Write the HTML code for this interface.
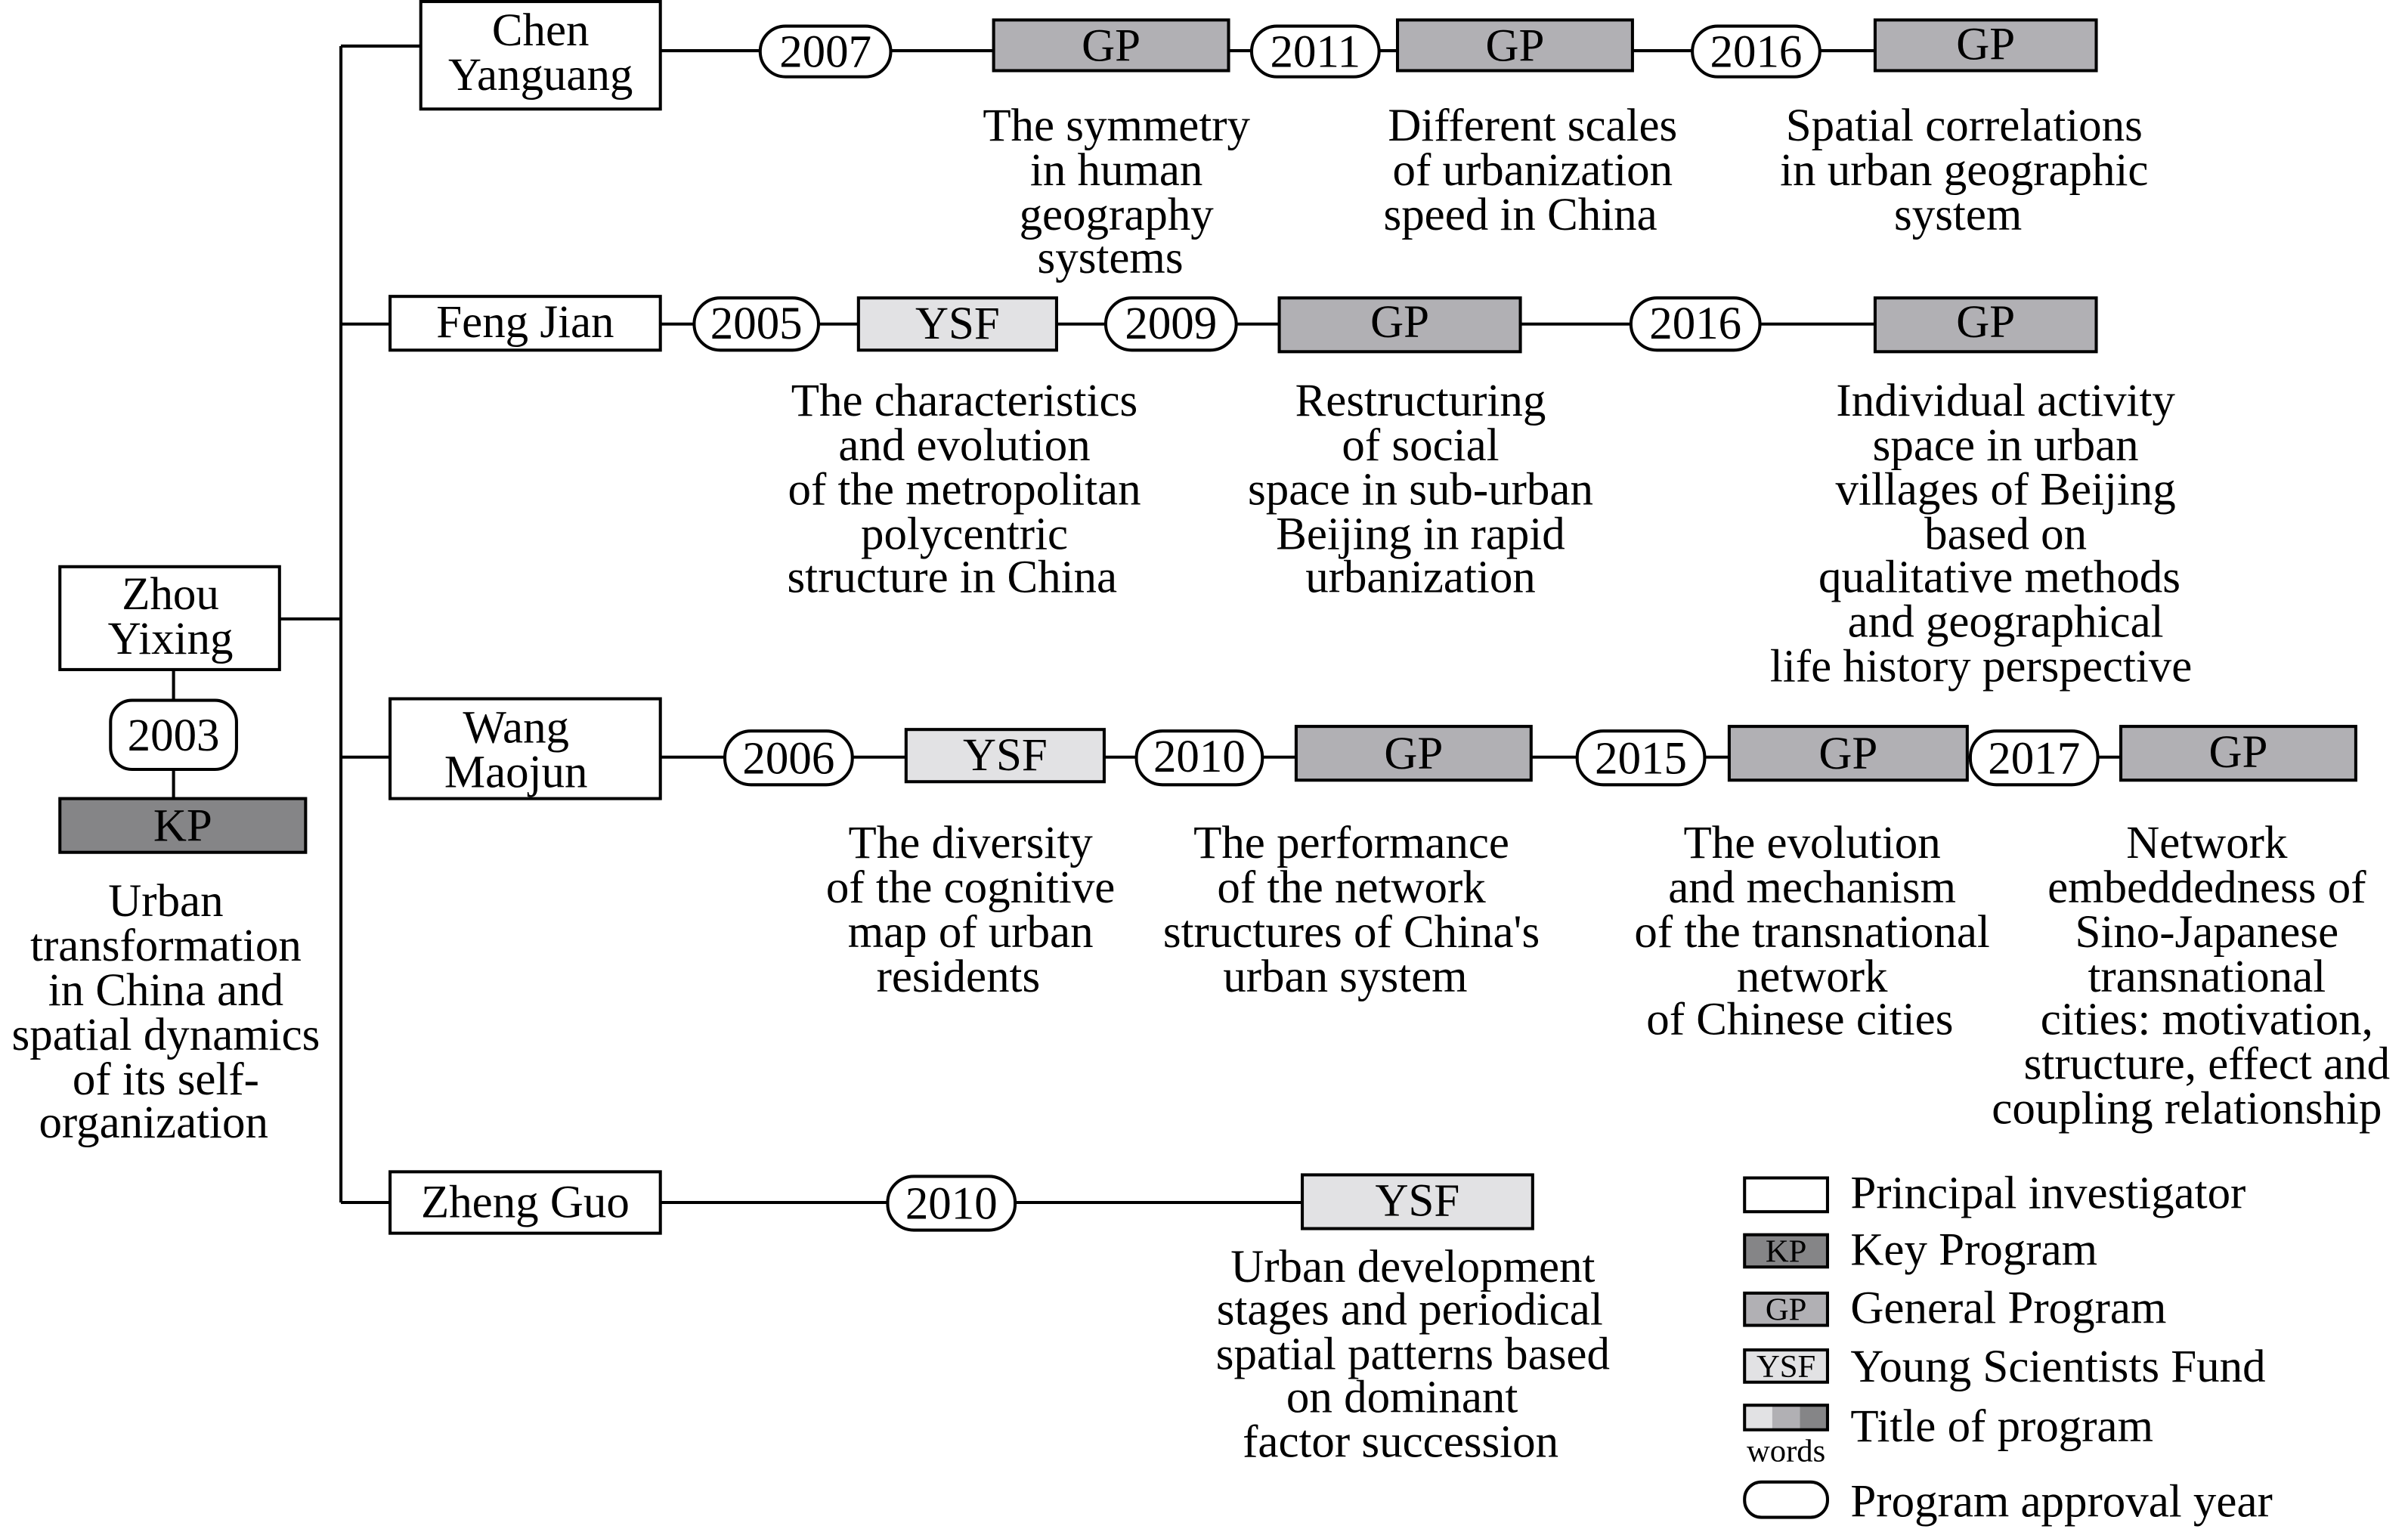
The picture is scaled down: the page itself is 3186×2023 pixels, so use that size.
<!DOCTYPE html>
<html><head><meta charset="utf-8"><style>
html,body{margin:0;padding:0;background:#fff;}
svg{display:block;}
text{font-family:"Liberation Serif",serif;fill:#000;}
</style></head><body>
<svg width="3186" height="2023" viewBox="0 0 1568 995.6" preserveAspectRatio="none" xmlns="http://www.w3.org/2000/svg">
<g stroke="#000" stroke-width="2" fill="none">
<line x1="222" y1="30" x2="222" y2="783"/>
<line x1="222" y1="30" x2="274" y2="30"/>
<line x1="222" y1="211" x2="254" y2="211"/>
<line x1="222" y1="493" x2="254" y2="493"/>
<line x1="222" y1="783" x2="254" y2="783"/>
<line x1="182" y1="403" x2="222" y2="403"/>
<line x1="113" y1="436" x2="113" y2="520"/>
<line x1="430" y1="33" x2="1221" y2="33"/>
<line x1="430" y1="211" x2="1221" y2="211"/>
<line x1="430" y1="493" x2="1381" y2="493"/>
<line x1="430" y1="783" x2="848" y2="783"/>
</g>
<g stroke="#000" stroke-width="2">
<rect x="274" y="1" width="156" height="70" fill="#fff"/>
<rect x="254" y="193" width="176" height="35" fill="#fff"/>
<rect x="254" y="455" width="176" height="65" fill="#fff"/>
<rect x="254" y="763" width="176" height="40" fill="#fff"/>
<rect x="39" y="369" width="143" height="67" fill="#fff"/>
<rect x="39" y="520" width="160" height="35" fill="#858587"/>
<rect x="72" y="456" width="82" height="45" rx="14" fill="#fff"/>
<rect x="495" y="17" width="85" height="33" rx="16.5" fill="#fff"/>
<rect x="815" y="17" width="83" height="33" rx="16.5" fill="#fff"/>
<rect x="1102" y="17" width="83" height="33" rx="16.5" fill="#fff"/>
<rect x="452" y="194" width="81" height="34" rx="17" fill="#fff"/>
<rect x="720" y="194" width="85" height="34" rx="17" fill="#fff"/>
<rect x="1062" y="194" width="84" height="34" rx="17" fill="#fff"/>
<rect x="472" y="476" width="83" height="35" rx="17" fill="#fff"/>
<rect x="740" y="476" width="82" height="35" rx="17" fill="#fff"/>
<rect x="1027" y="476" width="83" height="35" rx="17" fill="#fff"/>
<rect x="1283" y="476" width="83" height="35" rx="17" fill="#fff"/>
<rect x="578" y="766" width="83" height="35" rx="17" fill="#fff"/>
<rect x="647" y="13" width="153" height="33" fill="#b1b0b4"/>
<rect x="910" y="13" width="153" height="33" fill="#b1b0b4"/>
<rect x="1221" y="13" width="144" height="33" fill="#b1b0b4"/>
<rect x="833" y="194" width="157" height="35" fill="#b1b0b4"/>
<rect x="1221" y="194" width="144" height="35" fill="#b1b0b4"/>
<rect x="844" y="473" width="153" height="35" fill="#b1b0b4"/>
<rect x="1126" y="473" width="155" height="35" fill="#b1b0b4"/>
<rect x="1381" y="473" width="153" height="35" fill="#b1b0b4"/>
<rect x="559" y="194" width="129" height="34" fill="#e2e2e4"/>
<rect x="590" y="475" width="129" height="34" fill="#e2e2e4"/>
<rect x="848" y="765" width="150" height="35" fill="#e2e2e4"/>
<rect x="1136" y="767" width="54" height="22" fill="#fff"/>
<rect x="1136" y="804" width="54" height="21" fill="#858587"/>
<rect x="1136" y="842" width="54" height="21" fill="#b1b0b4"/>
<rect x="1136" y="879" width="54" height="21" fill="#e2e2e4"/>
<rect x="1136" y="965" width="54" height="23" rx="11" fill="#fff"/>
</g>
<rect x="1136" y="915" width="18" height="16" fill="#e2e2e4"/>
<rect x="1154" y="915" width="18" height="16" fill="#b1b0b4"/>
<rect x="1172" y="915" width="18" height="16" fill="#858587"/>
<rect x="1136" y="915" width="54" height="16" fill="none" stroke="#000" stroke-width="2"/>

<g font-size="30" text-anchor="middle" dominant-baseline="central">
<text x="352" y="20">Chen</text><text x="352" y="49">Yanguang</text>
<text x="342" y="210">Feng Jian</text>
<text x="336" y="474">Wang</text><text x="336" y="503">Maojun</text>
<text x="342" y="783">Zheng Guo</text>
<text x="111" y="387">Zhou</text><text x="111" y="416">Yixing</text>
<text x="113" y="479">2003</text>
<text x="537.5" y="34">2007</text>
<text x="856.5" y="34">2011</text>
<text x="1143.5" y="34">2016</text>
<text x="492.5" y="211">2005</text>
<text x="762.5" y="211">2009</text>
<text x="1104" y="211">2016</text>
<text x="513.5" y="494">2006</text>
<text x="781" y="493">2010</text>
<text x="1068.5" y="494">2015</text>
<text x="1324.5" y="494">2017</text>
<text x="619.5" y="784">2010</text>
<text x="119" y="538">KP</text>
<text x="723.5" y="30">GP</text>
<text x="986.5" y="30">GP</text>
<text x="1293" y="29">GP</text>
<text x="623.5" y="211">YSF</text>
<text x="911.5" y="210">GP</text>
<text x="1293" y="210">GP</text>
<text x="654.5" y="492">YSF</text>
<text x="920.5" y="491">GP</text>
<text x="1203.5" y="491">GP</text>
<text x="1457.5" y="490">GP</text>
<text x="923" y="782">YSF</text>
</g>
<g font-size="30" text-anchor="middle" dominant-baseline="central">
<text x="108" y="587">Urban</text><text x="108" y="616">transformation</text><text x="108" y="645">in China and</text><text x="108" y="674">spatial dynamics</text><text x="108" y="703">of its self-</text><text x="100" y="731">organization</text>

<text x="727" y="82">The symmetry</text><text x="727" y="111">in human</text><text x="727" y="140">geography</text><text x="723" y="168">systems</text>
<text x="998" y="82">Different scales</text><text x="998" y="111">of urbanization</text><text x="990" y="140">speed in China</text>
<text x="1279" y="82">Spatial correlations</text><text x="1279" y="111">in urban geographic</text><text x="1275" y="140">system</text>

<text x="628" y="261">The characteristics</text><text x="628" y="290">and evolution</text><text x="628" y="319">of the metropolitan</text><text x="628" y="348">polycentric</text><text x="620" y="376">structure in China</text>
<text x="925" y="261">Restructuring</text><text x="925" y="290">of social</text><text x="925" y="319">space in sub-urban</text><text x="925" y="348">Beijing in rapid</text><text x="925" y="376">urbanization</text>
<text x="1306" y="261">Individual activity</text><text x="1306" y="290">space in urban</text><text x="1306" y="319">villages of Beijing</text><text x="1306" y="348">based on</text><text x="1302" y="376">qualitative methods</text><text x="1306" y="405">and geographical</text><text x="1290" y="434">life history perspective</text>

<text x="632" y="549">The diversity</text><text x="632" y="578">of the cognitive</text><text x="632" y="607">map of urban</text><text x="624" y="636">residents</text>
<text x="880" y="549">The performance</text><text x="880" y="578">of the network</text><text x="880" y="607">structures of China's</text><text x="876" y="636">urban system</text>
<text x="1180" y="549">The evolution</text><text x="1180" y="578">and mechanism</text><text x="1180" y="607">of the transnational</text><text x="1180" y="636">network</text><text x="1172" y="664">of Chinese cities</text>
<text x="1437" y="549">Network</text><text x="1437" y="578">embeddedness of</text><text x="1437" y="607">Sino-Japanese</text><text x="1437" y="636">transnational</text><text x="1437" y="664">cities: motivation,</text><text x="1437" y="693">structure, effect and</text><text x="1424" y="722">coupling relationship</text>

<text x="920" y="825">Urban development</text><text x="918" y="853">stages and periodical</text><text x="920" y="882">spatial patterns based</text><text x="913" y="910">on dominant</text><text x="912" y="939">factor succession</text>
</g>
<g font-size="30" dominant-baseline="central">
<text x="1205" y="777">Principal investigator</text>
<text x="1205" y="814">Key Program</text>
<text x="1205" y="852">General Program</text>
<text x="1205" y="890">Young Scientists Fund</text>
<text x="1205" y="929">Title of program</text>
<text x="1205" y="978">Program approval year</text>
</g>
<g font-size="21" text-anchor="middle" dominant-baseline="central">
<text x="1163" y="815">KP</text>
<text x="1163" y="853">GP</text>
<text x="1163" y="890">YSF</text>
<text x="1163" y="945">words</text>
</g>
</svg>
</body></html>
